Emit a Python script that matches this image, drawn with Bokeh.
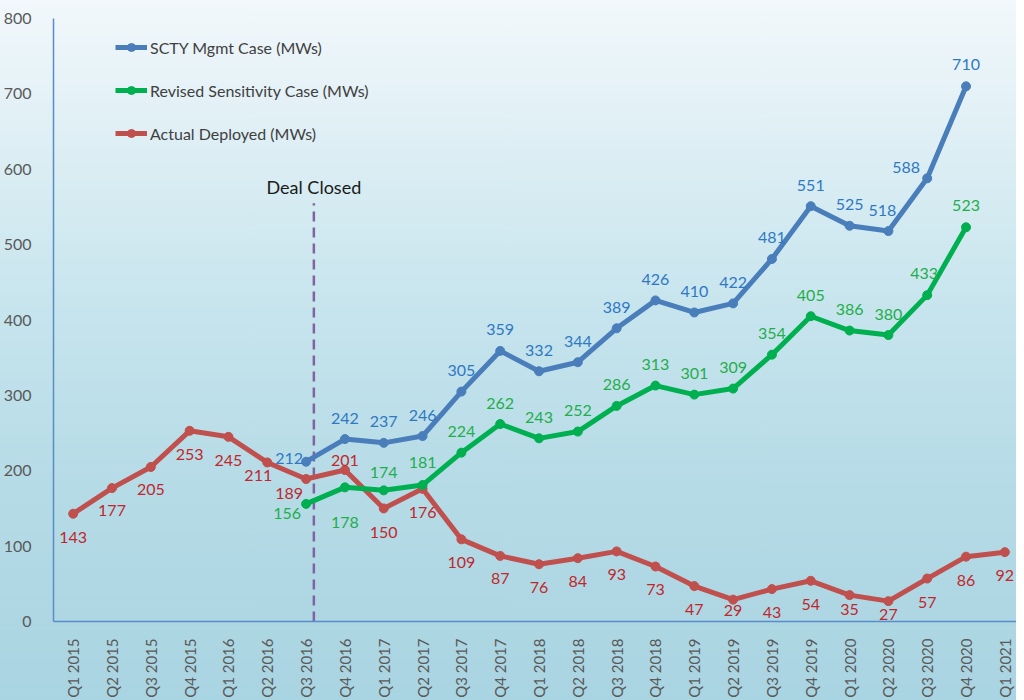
import math
from bokeh.plotting import figure
from bokeh.models import Range1d, FixedTicker, ColumnDataSource, Legend, LegendItem, LabelSet
from bokeh.core.properties import value
from bokeh.embed import file_html
from bokeh.resources import INLINE

# ---------------- data ----------------
quarters = ["Q1 2015", "Q2 2015", "Q3 2015", "Q4 2015",
            "Q1 2016", "Q2 2016", "Q3 2016", "Q4 2016",
            "Q1 2017", "Q2 2017", "Q3 2017", "Q4 2017",
            "Q1 2018", "Q2 2018", "Q3 2018", "Q4 2018",
            "Q1 2019", "Q2 2019", "Q3 2019", "Q4 2019",
            "Q1 2020", "Q2 2020", "Q3 2020", "Q4 2020",
            "Q1 2021"]

actual_deployed = [143, 177, 205, 253, 245, 211, 189, 201, 150, 176, 109, 87,
                   76, 84, 93, 73, 47, 29, 43, 54, 35, 27, 57, 86, 92]

forecast_start = "Q3 2016"
scty_mgmt = [212, 242, 237, 246, 305, 359, 332, 344, 389, 426, 410, 422,
             481, 551, 525, 518, 588, 710]
revised_sensitivity = [156, 178, 174, 181, 224, 262, 243, 252, 286, 313, 301, 309,
                       354, 405, 386, 380, 433, 523]

series_names = ["SCTY Mgmt Case (MWs)", "Revised Sensitivity Case (MWs)",
                "Actual Deployed (MWs)"]

y_ticks = [0, 100, 200, 300, 400, 500, 600, 700, 800]

deal_closed_text = "Deal Closed"
deal_closed_x = 6.2       # position in quarter units (just after Q3 2016)
deal_closed_top = 555     # MW level where the marker line ends
deal_closed_text_y = 577

# ---------------- styling (label placement, px; positive dy = downwards) ----------------
mgmt_dx = [-17, 0, 0, 0, 0, 0, 0, 0, 0, 0, 0, 0, 0, 0, 0, -6, -21, 0]
mgmt_dy = [-3, -21, -21, -21, -21, -21, -21, -21, -21, -21, -21, -21, -21, -21, -21, -21, -11, -22]
sens_dx = [-19, 0, 0, 0, 0, 0, 0, 0, 0, 0, 0, 0, 0, 0, 0, 0, -3, 0]
sens_dy = [10, 35, -18, -23, -21, -21, -21, -21, -21, -21, -21, -21, -21, -21, -21, -21, -22, -22]
act_dx = [0, 0, 0, 0, 0, -9, -17, 0, 0, 0, 0, 0, 0, 0, 0, 0, 0, 0, 0, 0, 0, 0, 0, 0, 0]
act_dy = [24, 22, 23, 24, 24, 13, 14, -9, 24, 24, 23, 23, 23, 23, 23, 23, 23, 11, 23, 24, 14, 13, 24, 24, 23]

FONT = "Lato"
BLUE, GREEN, RED = "#4a7ebb", "#00b050", "#c0504d"
BLUE_T, GREEN_T, RED_T = "#2f78c4", "#1fae4b", "#c0272d"

xs_all = list(range(len(quarters)))
start = quarters.index(forecast_start)
xs_fc = xs_all[start:start + len(scty_mgmt)]

p = figure(frame_width=963, frame_height=603, output_backend="svg", toolbar_location=None,
           x_range=Range1d(-0.507, 24.3), y_range=Range1d(0, 800),
           min_border_left=45, min_border_right=0, min_border_top=18, min_border_bottom=60,
           background_fill_color=None, border_fill_color=None, outline_line_color=None,
           styles={"background": "linear-gradient(to bottom, #f2f8fb 0%, #dceef4 22%, #c6e4ed 45%, #b5dbe6 70%, #a9d4e1 100%)"})
p.grid.visible = False

for ax in (p.xaxis[0], p.yaxis[0]):
    ax.axis_line_color = "#5a8bcb"
    ax.axis_line_width = 1.5
    ax.major_tick_line_color = None
    ax.minor_tick_line_color = None
    ax.major_label_text_font = FONT
    ax.major_label_text_color = "#595959"

p.yaxis.major_label_text_font_size = "16px"
p.yaxis.ticker = FixedTicker(ticks=y_ticks)
p.yaxis.major_label_standoff = 16
p.xaxis.ticker = FixedTicker(ticks=xs_all)
p.xaxis.major_label_overrides = {i: q for i, q in enumerate(quarters)}
p.xaxis.major_label_orientation = math.pi / 2
p.xaxis.major_label_text_font_size = "15px"
p.xaxis.major_label_standoff = 11

# deal closed marker
p.segment(x0=[deal_closed_x], y0=[0], x1=[deal_closed_x], y1=[deal_closed_top],
          line_color="#8064a2", line_width=2.5, line_dash="10 6")
p.text(x=[deal_closed_x], y=[deal_closed_text_y], text=[deal_closed_text],
       text_font=value(FONT), text_font_size="18px", text_color="#1a1a1a",
       text_align="center", text_baseline="middle")

def series(xs, ys, color, tcolor, dx, dy):
    src = ColumnDataSource(dict(x=xs, y=ys, t=[str(v) for v in ys], dx=dx,
                                dy=[-d for d in dy]))
    ln = p.line("x", "y", source=src, line_color=color, line_width=5, line_join="round")
    mk = p.scatter("x", "y", source=src, size=9, fill_color=color, line_color=color)
    labels = LabelSet(x="x", y="y", text="t", source=src, x_offset="dx", y_offset="dy",
                      text_font=value(FONT), text_font_size="16px", text_color=tcolor,
                      text_align="center", text_baseline="middle")
    p.add_layout(labels)
    return [ln, mk]

r_act = series(xs_all, actual_deployed, RED, RED_T, act_dx, act_dy)
r_sens = series(xs_fc, revised_sensitivity, GREEN, GREEN_T, sens_dx, sens_dy)
r_mgmt = series(xs_fc, scty_mgmt, BLUE, BLUE_T, mgmt_dx, mgmt_dy)

legend = Legend(items=[LegendItem(label=series_names[0], renderers=r_mgmt),
                       LegendItem(label=series_names[1], renderers=r_sens),
                       LegendItem(label=series_names[2], renderers=r_act)],
                location=(62, 478), padding=0, margin=0, spacing=23,
                glyph_width=32, glyph_height=20, label_height=20, label_standoff=3,
                label_text_font=FONT, label_text_font_size="16px",
                label_text_color="#404040",
                background_fill_alpha=0, border_line_color=None)
p.add_layout(legend)

open("out.html", "w").write(file_html(p, INLINE))
